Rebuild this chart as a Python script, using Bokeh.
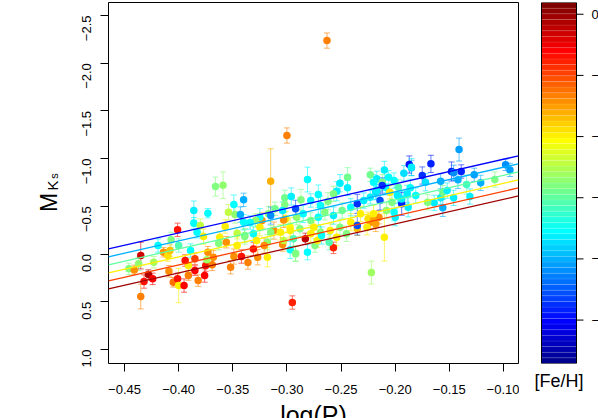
import math
from bokeh.plotting import figure
from bokeh.layouts import row, column
from bokeh.models import (Range1d, FixedTicker, ColumnDataSource,
                          LinearColorMapper)
from bokeh.transform import transform
from bokeh.core.properties import value
from bokeh.embed import file_html
from bokeh.resources import INLINE

FONT = "Liberation Sans"

# ---------------- data ----------------
log_p = [
    -0.446, -0.441, -0.435, -0.435, -0.432, -0.428, -0.424, -0.437, -0.423, -0.419,
    -0.414, -0.410, -0.409, -0.407, -0.405, -0.401, -0.400, -0.395, -0.391, -0.401,
    -0.400, -0.408, -0.389, -0.386, -0.386, -0.385, -0.385, -0.382, -0.383, -0.380,
    -0.377, -0.376, -0.375, -0.373, -0.373, -0.366, -0.359, -0.357, -0.354, -0.349,
    -0.348, -0.340, -0.362, -0.363, -0.356, -0.352, -0.349, -0.342, -0.340, -0.339,
    -0.346, -0.368, -0.369, -0.374, -0.391, -0.394,
    -0.300, -0.315, -0.281, -0.302, -0.296, -0.271, -0.251, -0.244, -0.244, -0.254,
    -0.223, -0.217, -0.292, -0.287, -0.278, -0.269, -0.262, -0.327, -0.318, -0.304,
    -0.283, -0.292, -0.297, -0.281, -0.274, -0.257, -0.223, -0.323, -0.312, -0.301,
    -0.263, -0.295, -0.222, -0.210,
    -0.141, -0.187, -0.167, -0.185, -0.175, -0.148, -0.139, -0.146, -0.127, -0.121,
    -0.142, -0.158, -0.172, -0.134, -0.108, -0.098, -0.094, -0.192, -0.210, -0.146,
    -0.156, -0.158, -0.164, -0.170, -0.188, -0.200, -0.156, -0.152, -0.181, -0.186,
    -0.302, -0.304, -0.311, -0.317, -0.325, -0.329, -0.291, -0.285, -0.278, -0.271,
    -0.265, -0.257, -0.249, -0.241, -0.235, -0.229, -0.223, -0.218, -0.232, -0.225,
    -0.218, -0.241, -0.251, -0.260, -0.269, -0.278, -0.288, -0.297, -0.306, -0.315,
    -0.325, -0.331, -0.328, -0.318, -0.303, -0.294, -0.272, -0.261, -0.254, -0.245,
    -0.235, -0.226, -0.292, -0.331, -0.321, -0.268,
    -0.339, -0.334, -0.343, -0.346, -0.336,
    -0.220, -0.217, -0.214, -0.209, -0.205, -0.198, -0.194, -0.208, -0.215, -0.220,
    -0.201, -0.194, -0.206, -0.212, -0.203, -0.197, -0.189, -0.131,
    -0.257, -0.315, -0.303, -0.275, -0.297, -0.185, -0.212, -0.220, -0.201, -0.235,
]
mag_ks = [
    0.155, 0.166, 0.016, 0.445, 0.288, 0.215, 0.260, 0.103, 0.086, -0.089,
    -0.019, 0.016, 0.180, -0.149, 0.296, 0.260, 0.330, 0.330, 0.225, -0.254,
    -0.089, -0.037, -0.037, -0.456, -0.323, 0.050, 0.173, 0.278, -0.228, -0.299,
    -0.183, 0.225, 0.121, -0.019, -0.428, -0.707, -0.721, -0.288, -0.438, -0.519,
    -0.414, -0.568, -0.176, -0.113, -0.124, 0.138, 0.026, 0.026, -0.333, -0.194,
    -0.218, 0.034, 0.113, 0.061, 0.121, 0.068,
    -1.242, -0.763, -0.781, -0.589, -0.603, -0.624, -0.742, -0.805, -0.694, -0.658,
    -0.830, -0.788, -0.474, -0.568, -0.561, -0.508, -0.553, 0.034, 0.034, -0.100,
    -0.159, -0.008, -0.044, -0.019, -0.089, -0.065, -0.333, -0.351, -0.246, -0.369,
    -2.237, 0.508, 0.194, -0.176,
    -1.095, -0.938, -0.945, -0.903, -0.823, -0.865, -0.865, -0.851, -0.830, -0.746,
    -0.778, -0.763, -0.752, -0.728, -0.781, -0.935, -0.882, -0.847, -0.882, -0.589,
    -0.484, -0.589, -0.537, -0.543, -0.490, -0.386, -0.648, -0.665, -0.613, -0.694,
    -0.519, -0.456, -0.474, -0.421, -0.386, -0.351, -0.386, -0.421, -0.351, -0.386,
    -0.438, -0.403, -0.456, -0.490, -0.526, -0.561, -0.595, -0.648, -0.421, -0.369,
    -0.316, -0.333, -0.281, -0.246, -0.228, -0.212, -0.264, -0.281, -0.228, -0.228,
    -0.281, -0.212, -0.141, -0.124, -0.141, -0.159, -0.141, -0.124, -0.176, -0.212,
    -0.264, -0.281, -0.002, -0.054, -0.089, -0.194,
    -0.183, -0.330, -0.414, -0.089, 0.089,
    -0.752, -0.665, -0.561, -0.700, -0.648, -0.613, -0.526, -0.456, -0.386, -0.351,
    -0.438, -0.578, -0.805, -0.752, -0.543, -0.700, -0.631, -0.603,
    -0.631, -0.403, -0.358, -0.281, -0.246, -0.910, -0.718, -0.421, -0.770, -0.299,
]
mag_err = [
    0.06, 0.05, 0.14, 0.13, 0.07, 0.05, 0.06, 0.07, 0.06, 0.07,
    0.05, 0.06, 0.06, 0.08, 0.05, 0.06, 0.18, 0.07, 0.05, 0.07,
    0.07, 0.06, 0.07, 0.10, 0.06, 0.06, 0.05, 0.06, 0.06, 0.07,
    0.08, 0.07, 0.06, 0.06, 0.05, 0.10, 0.14, 0.07, 0.08, 0.10,
    0.09, 0.07, 0.06, 0.07, 0.06, 0.07, 0.08, 0.07, 0.08, 0.07,
    0.06, 0.07, 0.06, 0.08, 0.07, 0.06,
    0.08, 0.34, 0.13, 0.08, 0.09, 0.10, 0.09, 0.10, 0.08, 0.10,
    0.07, 0.08, 0.09, 0.11, 0.07, 0.10, 0.09, 0.08, 0.10, 0.07,
    0.06, 0.08, 0.09, 0.08, 0.07, 0.06, 0.07, 0.08, 0.09, 0.08,
    0.08, 0.07, 0.12, 0.25,
    0.12, 0.09, 0.09, 0.08, 0.09, 0.10, 0.07, 0.08, 0.07, 0.08,
    0.09, 0.08, 0.09, 0.10, 0.08, 0.06, 0.07, 0.08, 0.09, 0.08,
    0.09, 0.07, 0.08, 0.08, 0.10, 0.09, 0.07, 0.08, 0.08, 0.09,
    0.08, 0.09, 0.07, 0.08, 0.09, 0.07, 0.08, 0.09, 0.08, 0.10,
    0.08, 0.09, 0.08, 0.09, 0.10, 0.08, 0.07, 0.08, 0.08, 0.07,
    0.08, 0.09, 0.08, 0.07, 0.08, 0.09, 0.08, 0.10, 0.08, 0.07,
    0.09, 0.08, 0.07, 0.08, 0.09, 0.08, 0.07, 0.08, 0.09, 0.08,
    0.07, 0.08, 0.08, 0.07, 0.08, 0.09,
    0.08, 0.07, 0.08, 0.09, 0.07,
    0.08, 0.09, 0.10, 0.08, 0.07, 0.08, 0.12, 0.08, 0.07, 0.08,
    0.09, 0.08, 0.07, 0.08, 0.09, 0.08, 0.09, 0.08,
    0.08, 0.09, 0.08, 0.07, 0.08, 0.09, 0.08, 0.09, 0.08, 0.10,
]
feh = [
    -1.40, -0.70, -0.15, -0.65, -0.35, -0.05, -0.30, -1.35, -1.30, -1.75,
    -0.70, -0.95, -0.70, -1.40, -0.60, -0.35, -1.00, -0.30, -0.65, -0.35,
    -1.55, -0.85, -1.75, -1.80, -1.75, -0.50, -0.30, -0.65, -1.75, -1.20,
    -1.00, -0.30, -0.35, -0.70, -1.75, -1.40, -1.35, -1.00, -1.20, -1.75,
    -1.35, -2.00, -1.00, -1.40, -0.70, -0.65, -0.70, -0.35, -1.75, -1.40,
    -1.20, -0.70, -0.65, -1.30, -1.00, -0.35,
    -0.65, -0.80, -1.75, -1.45, -1.80, -1.75, -1.80, -1.45, -1.80, -1.80,
    -1.45, -1.80, -2.30, -1.40, -1.80, -1.75, -1.40, -0.70, -1.00, -0.70,
    -0.10, -1.40, -1.75, -1.75, -1.40, -0.40, -0.70, -0.70, -0.70, -1.00,
    -0.65, -0.40, -1.30, -1.00,
    -2.05, -2.45, -2.40, -2.05, -2.35, -2.40, -2.40, -2.10, -2.05, -2.00,
    -2.00, -2.00, -1.85, -1.60, -1.40, -2.10, -2.05, -1.85, -1.80, -1.80,
    -2.00, -1.80, -1.80, -1.40, -1.80, -1.80, -1.45, -1.80, -1.75, -1.75,
    -1.40, -1.80, -1.45, -1.35, -1.75, -1.35, -1.35, -1.75, -1.40, -1.75,
    -1.40, -1.80, -1.45, -1.75, -2.35, -1.80, -1.80, -1.85, -1.00, -0.95,
    -0.75, -1.00, -1.40, -1.00, -1.35, -1.00, -1.40, -1.05, -1.00, -1.40,
    -1.00, -1.75, -1.00, -1.35, -1.20, -1.55, -1.00, -1.55, -1.00, -1.40,
    -0.85, -1.00, -1.40, -0.35, -0.70, -1.75,
    -1.40, -1.75, -2.00, -1.00, -0.65,
    -1.75, -1.80, -2.30, -1.75, -1.00, -1.80, -2.40, -1.35, -0.70, -0.75,
    -1.75, -1.80, -1.75, -1.40, -1.40, -1.55, -1.80, -1.80,
    -1.40, -2.10, -0.70, -1.00, -1.00, -1.80, -2.35, -1.00, -1.75, -2.30,
]

# period-luminosity-metallicity relation drawn for several [Fe/H] values
line_feh = [-2.5, -2.0, -1.5, -1.0, -0.5, 0.0]
pl_intercept = -0.8305
pl_slope = -2.572
pl_feh_coef = 0.168

x_ticks = [-0.45, -0.40, -0.35, -0.30, -0.25, -0.20, -0.15, -0.10]
x_tick_labels = ["\u22120.45", "\u22120.40", "\u22120.35", "\u22120.30",
                 "\u22120.25", "\u22120.20", "\u22120.15", "\u22120.10"]
y_ticks = [-2.5, -2.0, -1.5, -1.0, -0.5, 0.0, 0.5, 1.0]
y_tick_labels = ["\u22122.5", "\u22122.0", "\u22121.5", "\u22121.0",
                 "\u22120.5", "0.0", "0.5", "1.0"]
cb_ticks = [0.0, -0.5, -1.0, -1.5, -2.0, -2.5]
cb_tick_labels = ["0", "\u22120.5", "\u22121.0", "\u22121.5", "\u22122.0", "\u22122.5"]
feh_low, feh_high = -2.855, 0.096

# ---------------- palette (jet, 64 colours) ----------------
def jet(n=64):
    cols = []
    for i in range(n):
        x = (i + 1) / n
        r = min(max(min(4 * x - 1.5, -4 * x + 4.5), 0), 1)
        g = min(max(min(4 * x - 0.5, -4 * x + 3.5), 0), 1)
        b = min(max(min(4 * x + 0.5, -4 * x + 2.5), 0), 1)
        cols.append("#%02x%02x%02x" % (round(r * 255), round(g * 255), round(b * 255)))
    return cols

palette = jet(64)
mapper = LinearColorMapper(palette=palette, low=feh_low, high=feh_high)

def feh_color(f):
    i = int((f - feh_low) / (feh_high - feh_low) * len(palette))
    return palette[max(0, min(len(palette) - 1, i))]

def bare(fig):
    fig.grid.visible = False
    fig.outline_line_color = None
    fig.background_fill_color = "white"
    fig.border_fill_color = "white"

# layout geometry (page is 598 x 418)
TOP, FRAME_H, BOTTOM = 2, 361, 37
ROW_H = TOP + FRAME_H + BOTTOM          # 400
W0, W1, W2 = 60, 459, 79

# ---------------- left strip: y-axis title M_Ks ----------------
p0 = figure(width=W0, height=ROW_H, output_backend="svg", toolbar_location=None,
            x_range=Range1d(0, W0), y_range=Range1d(0, FRAME_H),
            x_axis_location=None, y_axis_location=None,
            min_border_left=0, min_border_right=0,
            min_border_top=TOP, min_border_bottom=BOTTOM)
bare(p0)
for t, tx, ty, sz in (("M", 48.3, 151.5, "23px"), ("K", 51.7, 173.0, "15px"),
                      ("s", 53.3, 184.7, "11px")):
    p0.text(x=[tx], y=[ty], text=[t], angle=math.pi / 2, text_align="left",
            text_baseline="alphabetic", text_font=value(FONT),
            text_font_size=sz, text_color="black")

# ---------------- main figure ----------------
x_lo, x_hi = -0.4648, -0.0861
p = figure(width=W1, height=ROW_H, output_backend="svg", toolbar_location=None,
           x_range=Range1d(x_lo, x_hi), y_range=Range1d(1.147, -2.636),
           min_border_left=48, min_border_right=1, min_border_top=TOP,
           min_border_bottom=BOTTOM)
p.grid.visible = False
p.outline_line_color = "black"
p.outline_line_width = 1
p.background_fill_color = "white"
p.border_fill_color = "white"

src = ColumnDataSource(dict(
    x=log_p, y=mag_ks, fe=feh,
    lo=[m - e for m, e in zip(mag_ks, mag_err)],
    hi=[m + e for m, e in zip(mag_ks, mag_err)],
))

p.segment(x0="x", y0="lo", x1="x", y1="hi", source=src,
          line_color=transform("fe", mapper), line_alpha=0.6, line_width=1)
p.scatter(x="x", y="lo", source=src, marker="dash", size=6,
          line_color=transform("fe", mapper), line_alpha=0.6, line_width=1)
p.scatter(x="x", y="hi", source=src, marker="dash", size=6,
          line_color=transform("fe", mapper), line_alpha=0.6, line_width=1)
p.scatter(x="x", y="y", source=src, size=7.5,
          fill_color=transform("fe", mapper), line_color=None)

for f in line_feh:
    xs = [x_lo, x_hi]
    ys = [pl_intercept + pl_slope * xv + pl_feh_coef * f for xv in xs]
    p.line(xs, ys, line_color=feh_color(f), line_width=1.3)

for ax in (p.xaxis[0], p.yaxis[0]):
    ax.axis_line_color = None
    ax.major_tick_in = 0
    ax.major_tick_out = 8
    ax.major_tick_line_color = "black"
    ax.minor_tick_line_color = None
    ax.major_label_text_font = FONT
    ax.major_label_text_font_size = "13px"
    ax.major_label_text_color = "black"

p.xaxis.ticker = FixedTicker(ticks=x_ticks)
p.xaxis.major_label_overrides = {t: l for t, l in zip(x_ticks, x_tick_labels)}
p.xaxis.major_label_standoff = 13
p.yaxis.ticker = FixedTicker(ticks=y_ticks)
p.yaxis.major_label_overrides = {t: l for t, l in zip(y_ticks, y_tick_labels)}
p.yaxis.major_label_orientation = math.pi / 2
p.yaxis.major_label_standoff = 14

# ---------------- colour bar figure ----------------
# frame spans x 519..598 so that its centre (558.5) is the bar's centre
p2 = figure(width=W2, height=ROW_H, output_backend="svg", toolbar_location=None,
            x_range=Range1d(0, W2), y_range=Range1d(feh_low, feh_high),
            x_axis_location="below", y_axis_location=None,
            min_border_left=0, min_border_right=0, min_border_top=TOP,
            min_border_bottom=BOTTOM)
bare(p2)
xa = p2.xaxis[0]
xa.ticker = FixedTicker(ticks=[])
xa.axis_line_color = None
xa.major_tick_line_color = None
xa.minor_tick_line_color = None
xa.major_tick_out = 0
xa.major_label_standoff = 0
xa.axis_label = "[Fe/H]"
xa.axis_label_standoff = 7
xa.axis_label_align = "center"
xa.axis_label_text_font = FONT
xa.axis_label_text_font_size = "18px"
xa.axis_label_text_font_style = "normal"
xa.axis_label_text_color = "black"

n = len(palette)
step = (feh_high - feh_low) / n
p2.quad(left=22, right=57,
        bottom=[feh_low + i * step for i in range(n)],
        top=[feh_low + (i + 1) * step for i in range(n)],
        fill_color=palette, line_color="white", line_alpha=0.18, line_width=0.5)
p2.quad(left=22, right=57, bottom=feh_low, top=feh_high,
        fill_color=None, line_color="black", line_width=1)
p2.segment(x0=[57] * len(cb_ticks), y0=cb_ticks, x1=[64] * len(cb_ticks), y1=cb_ticks,
           line_color="black", line_width=1)
p2.text(x=[72] * len(cb_ticks), y=cb_ticks, text=cb_tick_labels,
        text_font=value(FONT), text_font_size="13px", text_align="left",
        text_baseline="middle", text_color="black")

# ---------------- bottom strip: x-axis title ----------------
H3 = 418 - ROW_H
WT = W0 + W1 + W2
p3 = figure(width=WT, height=H3, output_backend="svg", toolbar_location=None,
            x_range=Range1d(0, WT), y_range=Range1d(0, H3),
            x_axis_location=None, y_axis_location=None, min_border=0)
bare(p3)
p3.text(x=[313], y=[H3 - 0.5], text=["log(P)"], text_font=value(FONT),
        text_font_size="25px", text_align="center", text_baseline="top",
        text_color="black")

layout = column(row(p0, p, p2), p3)
open("out.html", "w").write(file_html(layout, INLINE))
